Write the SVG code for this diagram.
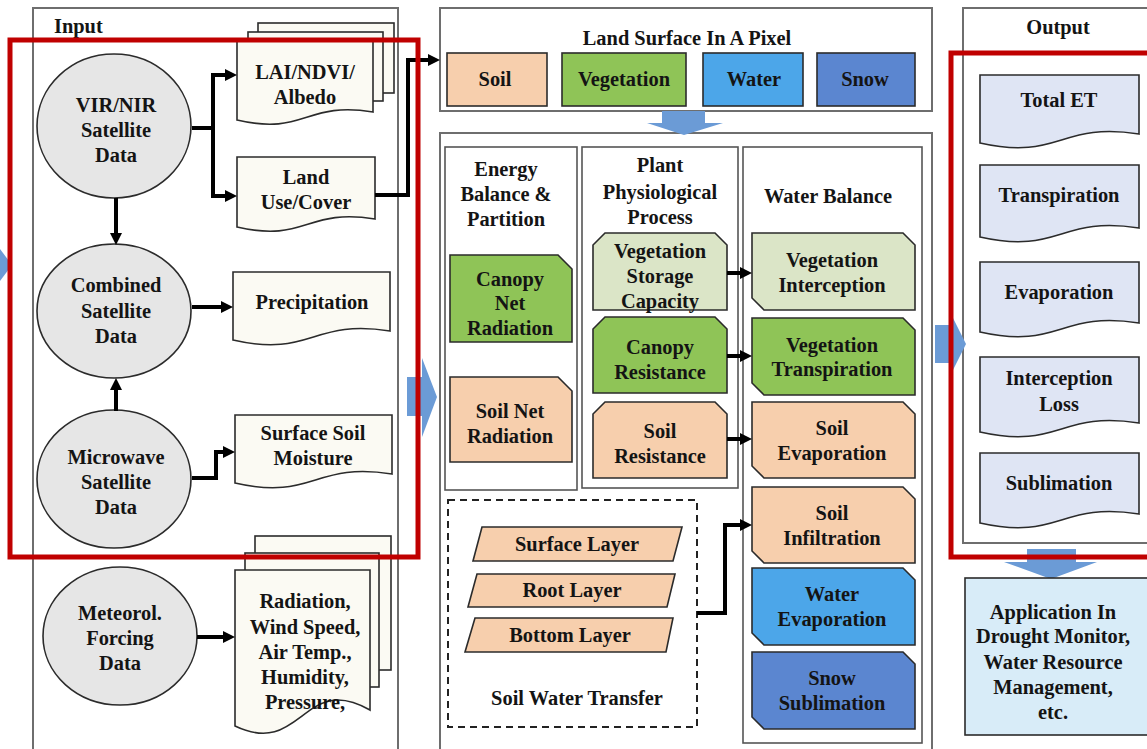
<svg xmlns="http://www.w3.org/2000/svg" width="1147" height="749" viewBox="0 0 1147 749">
<style>
text{font-family:'Liberation Serif','Times New Roman',serif;font-weight:700;font-size:20.4px;text-anchor:middle;fill:#141414}
.panel{fill:#fff;stroke:#6e6e6e;stroke-width:2}
.sub{fill:#fff;stroke:#555;stroke-width:1.6}
.circ{fill:#e6e6e6;stroke:#2b2b2b;stroke-width:1.6}
.doc{fill:#fbfaf3;stroke:#2b2b2b;stroke-width:1.6}
.odoc{fill:#dfe5f4;stroke:#2b2b2b;stroke-width:1.6}
.box{stroke:#2b2b2b;stroke-width:1.6}
.soil{fill:#f7cfad}
.veg{fill:#8fc457}
.lveg{fill:#dbe5c7}
.water{fill:#4ca6e9}
.snow{fill:#5b86d0}
.con{fill:none;stroke:#000;stroke-width:4}
.blk{fill:#6b9bd6}
.red{fill:none;stroke:#c00000;stroke-width:5}
</style>
<defs>
<marker id="ah" markerWidth="12" markerHeight="12" refX="4" refY="6" orient="auto" markerUnits="userSpaceOnUse"><path d="M0,0 L12,6 L0,12 z" fill="#000"/></marker>
</defs>
<rect width="1147" height="749" fill="#fff"/>
<g font-family="Liberation Serif, Times New Roman, serif" font-weight="bold">

<!-- panels -->
<g id="input-panel"><rect class="panel" x="33" y="8" width="365" height="760"/><text x="54" y="33" style="text-anchor:start">Input</text></g>
<g id="land-surface-panel"><rect class="panel" x="440" y="8" width="492" height="103"/><text x="687" y="45">Land Surface In A Pixel</text></g>
<g id="process-panel"><rect class="panel" x="440" y="133" width="492" height="640"/></g>
<g id="output-panel"><rect class="panel" x="963" y="8" width="200" height="535"/><text x="1058" y="34">Output</text></g>

<!-- block arrows -->
<g id="block-arrows">
<polygon class="blk" points="0,249 12,265 0,281"/>
<polygon class="blk" points="407,377 422,377 422,358 437,397 422,437 422,416 407,416"/>
<polygon class="blk" points="662,111 705,111 705,123 723,123 684,135 647,123 662,123"/>
<polygon class="blk" points="935,325 951,325 951,314 966,344 951,374 951,363 935,363"/>
<polygon class="blk" points="1027,549 1076,549 1076,562 1097,562 1051,579 1004,562 1027,562"/>
</g>

<!-- input nodes -->
<g id="vir-nir"><ellipse class="circ" cx="114" cy="126" rx="77" ry="72"/><text x="116" y="112">VIR/NIR</text><text x="116" y="137">Satellite</text><text x="116" y="162">Data</text></g>
<g id="combined"><ellipse class="circ" cx="114" cy="311" rx="77" ry="67"/><text x="116" y="292">Combined</text><text x="116" y="318">Satellite</text><text x="116" y="343">Data</text></g>
<g id="microwave"><ellipse class="circ" cx="114" cy="479" rx="77" ry="69"/><text x="116" y="464">Microwave</text><text x="116" y="489">Satellite</text><text x="116" y="514">Data</text></g>
<g id="meteorol"><ellipse class="circ" cx="120" cy="636" rx="77" ry="69"/><text x="120" y="620">Meteorol.</text><text x="120" y="645">Forcing</text><text x="120" y="670">Data</text></g>

<g id="lai"><rect class="doc" x="258" y="23" width="136" height="70"/><rect class="doc" x="248" y="32" width="135" height="69"/><path class="doc" d="M237,40 H373 V112 C305,100.8 305,136 237,120 Z"/><text x="305" y="79">LAI/NDVI/</text><text x="305" y="104">Albedo</text></g>
<g id="land-use"><path class="doc" d="M237,157 H375 V219 C306,207.8 306,243 237,227 Z"/><text x="306" y="184">Land</text><text x="306" y="209">Use/Cover</text></g>
<g id="precipitation"><path class="doc" d="M233,272 H390 V331 C311.5,318.4 311.5,358 233,340 Z"/><text x="312" y="309">Precipitation</text></g>
<g id="surface-soil-moisture"><path class="doc" d="M235,415 H392 V474 C313.5,461.4 313.5,501 235,483 Z"/><text x="313" y="440">Surface Soil</text><text x="313" y="465">Moisture</text></g>
<g id="forcing"><rect class="doc" x="255" y="536" width="136" height="134"/><rect class="doc" x="245" y="553" width="134" height="134"/><path class="doc" d="M235,570 H370 V710 C302.5,671.6 302.5,758 235,726 Z"/><text x="305" y="608">Radiation,</text><text x="305" y="634">Wind Speed,</text><text x="305" y="659">Air Temp.,</text><text x="305" y="684">Humidity,</text><text x="305" y="709">Pressure,</text></g>

<!-- land surface -->
<g id="ls-soil"><rect class="box soil" x="447" y="53" width="100" height="53"/><text x="495" y="86">Soil</text></g>
<g id="ls-veg"><rect class="box veg" x="562" y="53" width="124" height="53"/><text x="624" y="86">Vegetation</text></g>
<g id="ls-water"><rect class="box water" x="703" y="53" width="100" height="53"/><text x="754" y="86">Water</text></g>
<g id="ls-snow"><rect class="box snow" x="817" y="53" width="98" height="53"/><text x="865" y="86">Snow</text></g>

<!-- sub-panels -->
<g id="energy-panel"><rect class="sub" x="445" y="147" width="132" height="343"/><text x="506" y="176">Energy</text><text x="506" y="201">Balance &amp;</text><text x="506" y="226">Partition</text></g>
<g id="plant-panel"><rect class="sub" x="582" y="147" width="156" height="341"/><text x="660" y="172">Plant</text><text x="660" y="199">Physiological</text><text x="660" y="224">Process</text></g>
<g id="water-panel"><rect class="sub" x="743" y="147" width="179" height="596"/><text x="828" y="203">Water Balance</text></g>
<g id="soil-water-transfer"><rect x="448" y="500" width="249" height="227" fill="none" stroke="#222" stroke-width="2" stroke-dasharray="7,5"/><text x="577" y="705">Soil Water Transfer</text></g>

<!-- energy boxes -->
<g id="canopy-net-rad"><path class="box veg" d="M450,255 H558 L572,269 V342 H450 Z"/><text x="510" y="286">Canopy</text><text x="510" y="310">Net</text><text x="510" y="335">Radiation</text></g>
<g id="soil-net-rad"><path class="box soil" d="M450,377 H558 L572,391 V462 H450 Z"/><text x="510" y="418">Soil Net</text><text x="510" y="443">Radiation</text></g>

<!-- plant boxes -->
<g id="veg-storage"><path class="box lveg" d="M605,233 H715 L727,245 V310 H593 V245 Z"/><text x="660" y="258">Vegetation</text><text x="660" y="283">Storage</text><text x="660" y="308">Capacity</text></g>
<g id="canopy-res"><path class="box veg" d="M605,317 H715 L727,329 V393 H593 V329 Z"/><text x="660" y="354">Canopy</text><text x="660" y="379">Resistance</text></g>
<g id="soil-res"><path class="box soil" d="M605,402 H715 L727,414 V478 H593 V414 Z"/><text x="660" y="438">Soil</text><text x="660" y="463">Resistance</text></g>

<!-- water balance boxes -->
<g id="veg-interception"><path class="box lveg" d="M752,233 H903 L915,245 V310 H764 L752,298 Z"/><text x="832" y="267">Vegetation</text><text x="832" y="292">Interception</text></g>
<g id="veg-transpiration"><path class="box veg" d="M752,318 H903 L915,330 V395 H764 L752,383 Z"/><text x="832" y="352">Vegetation</text><text x="832" y="376">Transpiration</text></g>
<g id="soil-evap"><path class="box soil" d="M752,402 H903 L915,414 V478 H764 L752,466 Z"/><text x="832" y="435">Soil</text><text x="832" y="460">Evaporation</text></g>
<g id="soil-infil"><path class="box soil" d="M752,487 H903 L915,499 V563 H764 L752,551 Z"/><text x="832" y="520">Soil</text><text x="832" y="545">Infiltration</text></g>
<g id="water-evap"><path class="box water" d="M752,568 H903 L915,580 V645 H764 L752,633 Z"/><text x="832" y="601">Water</text><text x="832" y="626">Evaporation</text></g>
<g id="snow-sub"><path class="box snow" d="M752,652 H903 L915,664 V729 H764 L752,717 Z"/><text x="832" y="685">Snow</text><text x="832" y="710">Sublimation</text></g>

<!-- soil layers -->
<g id="surface-layer"><polygon class="box soil" points="482,527 682,527 673,561 473,561"/><text x="577" y="551">Surface Layer</text></g>
<g id="root-layer"><polygon class="box soil" points="477,574 675,574 667,607 468,607"/><text x="572" y="597">Root Layer</text></g>
<g id="bottom-layer"><polygon class="box soil" points="475,618 673,618 666,652 465,652"/><text x="570" y="642">Bottom Layer</text></g>

<!-- outputs -->
<g id="out-total-et"><path class="odoc" d="M980,75 H1139 V134 C1059.5,121.4 1059.5,161 980,143 Z"/><text x="1059" y="107">Total ET</text></g>
<g id="out-transpiration"><path class="odoc" d="M980,165 H1139 V228 C1059.5,215.4 1059.5,255 980,237 Z"/><text x="1059" y="202">Transpiration</text></g>
<g id="out-evaporation"><path class="odoc" d="M980,262 H1139 V323 C1059.5,310.4 1059.5,350 980,332 Z"/><text x="1059" y="299">Evaporation</text></g>
<g id="out-interception"><path class="odoc" d="M980,357 H1139 V423 C1059.5,410.4 1059.5,450 980,432 Z"/><text x="1059" y="385">Interception</text><text x="1059" y="411">Loss</text></g>
<g id="out-sublimation"><path class="odoc" d="M980,453 H1139 V514 C1059.5,501.4 1059.5,541 980,523 Z"/><text x="1059" y="490">Sublimation</text></g>
<g id="application"><rect x="965" y="578" width="200" height="157" fill="#d8ecf8" stroke="#2b2b2b" stroke-width="1.6"/><text x="1053" y="619">Application In</text><text x="1053" y="643">Drought Monitor,</text><text x="1053" y="669">Water Resource</text><text x="1053" y="694">Management,</text><text x="1053" y="719">etc.</text></g>

<!-- connectors -->
<g id="connectors">
<path class="con" d="M192,128 H213"/>
<path class="con" d="M213,128 V75 H229" marker-end="url(#ah)"/>
<path class="con" d="M213,128 V196 H229" marker-end="url(#ah)"/>
<path class="con" d="M375,195 H408 V60 H432" marker-end="url(#ah)"/>
<path class="con" d="M116,198 V237" marker-end="url(#ah)"/>
<path class="con" d="M116,411 V386" marker-end="url(#ah)"/>
<path class="con" d="M192,307 H225" marker-end="url(#ah)"/>
<path class="con" d="M192,478 H216 V452 H227" marker-end="url(#ah)"/>
<path class="con" d="M197,637 H227" marker-end="url(#ah)"/>
<path class="con" d="M727,273 H744" marker-end="url(#ah)"/>
<path class="con" d="M727,356 H744" marker-end="url(#ah)"/>
<path class="con" d="M727,439 H744" marker-end="url(#ah)"/>
<path class="con" d="M697,613 H725 V525 H744" marker-end="url(#ah)"/>
</g>

<!-- highlight frames -->
<g id="highlights">
<rect class="red" x="10" y="40" width="408" height="517"/>
<rect class="red" x="951" y="53" width="210" height="504"/>
</g>
</g>
</svg>
